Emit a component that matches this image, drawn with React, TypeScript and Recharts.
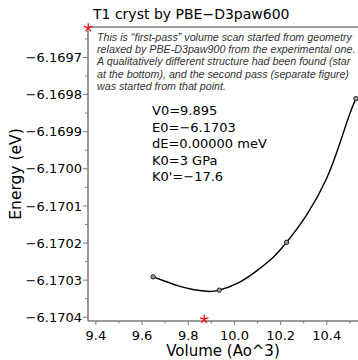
import { ScatterChart, Scatter, XAxis, YAxis, ReferenceLine } from "recharts";

// calculated points of the first-pass scan
const volumes = [9.648, 9.934, 10.226, 10.526];
const energies = [-6.170291, -6.170327, -6.170198, -6.169811];

// fitted equation-of-state curve
const fitVolumes = [9.648, 9.7, 9.76, 9.82, 9.879, 9.934, 10.023, 10.096, 10.168, 10.226, 10.312, 10.399, 10.456, 10.5, 10.526];
const fitEnergies = [
  -6.170291, -6.170303, -6.170316, -6.170325, -6.17033, -6.170327, -6.170305, -6.170275, -6.170238, -6.170198,
  -6.170125, -6.170026, -6.169932, -6.169851, -6.169811,
];

// red stars
const starVolumes = [9.367, 9.869];
const starEnergies = [-6.16962, -6.170405];

const xMajor = [9.4, 9.6, 9.8, 10.0, 10.2, 10.4];
const xMinor = [9.5, 9.7, 9.9, 10.1, 10.3, 10.5];
const yMajor = [-6.1704, -6.1703, -6.1702, -6.1701, -6.17, -6.1699, -6.1698, -6.1697];
const yMinor = [-6.17035, -6.17025, -6.17015, -6.17005, -6.16995, -6.16985, -6.16975, -6.16965];

const xDomain = [9.366, 10.535];
const yDomain = [-6.17041, -6.169618];

const title = "T1 cryst by PBE−D3paw600";
const note = [
  "This is “first-pass” volume scan started from geometry",
  "relaxed by PBE-D3paw900 from the experimental one.",
  "A qualitatively different structure had been found (star",
  "at the bottom), and the second pass (separate figure)",
  "was started from that point.",
];
const fitInfo = ["V0=9.895", "E0=−6.1703", "dE=0.00000 meV", "K0=3 GPa", "K0'=−17.6"];

const points = volumes.map((v, i) => ({ v, e: energies[i] }));
const fit = fitVolumes.map((v, i) => ({ v, e: fitEnergies[i] }));
const stars = starVolumes.map((v, i) => ({ v, e: starEnergies[i] }));

const axisColor = "#7a7a7a";
const font = "DejaVu Sans";

const isMajor = (list: number[], val: number) => list.some((t) => Math.abs(t - val) < 1e-7);

const XTick = (props: any) => {
  const { x, y, payload } = props;
  const major = isMajor(xMajor, payload.value);
  return (
    <g>
      <line x1={x} x2={x} y1={y} y2={y + (major ? 4 : 2.5)} stroke={axisColor} strokeWidth={1} />
      {major && (
        <text x={x} y={y + 19} textAnchor="middle" fontSize={13} fontFamily={font} fill="#000">
          {payload.value.toFixed(1)}
        </text>
      )}
    </g>
  );
};

const YTick = (props: any) => {
  const { x, y, payload } = props;
  const major = isMajor(yMajor, payload.value);
  return (
    <g>
      <line x1={x} x2={x - (major ? 5 : 3)} y1={y} y2={y} stroke={axisColor} strokeWidth={1} />
      {major && (
        <text x={x - 6} y={y} dy="0.36em" textAnchor="end" fontSize={13} fontFamily={font} fill="#000">
          {payload.value.toFixed(4).replace("-", "−")}
        </text>
      )}
    </g>
  );
};

const Circle = (props: any) => (
  <circle cx={props.cx} cy={props.cy} r={2.2} fill="#9a9a9a" stroke="#222" strokeWidth={1} />
);

const Star = (props: any) => {
  const { cx, cy } = props;
  const arms = [-90, -18, 54, 126, 198].map((a) => (a * Math.PI) / 180);
  return (
    <g>
      {arms.map((a, i) => (
        <line key={i} x1={cx} y1={cy} x2={cx + 4.5 * Math.cos(a)} y2={cy + 4.5 * Math.sin(a)} stroke="#ff0000" strokeWidth={1.2} />
      ))}
    </g>
  );
};

const Nothing = () => <g />;

export default function App() {
  return (
    <div style={{ position: "absolute", left: 0, top: 0, width: 358, height: 360, background: "#fff" }}>
      <ScatterChart width={358} height={360} margin={{ top: 27, right: 0, bottom: 0, left: 0 }}>
        <XAxis
          type="number"
          dataKey="v"
          domain={xDomain}
          ticks={[...xMajor, ...xMinor].sort((a, b) => a - b)}
          interval={0}
          height={39}
          tickSize={0}
          tickMargin={0}
          tickLine={false}
          tick={XTick}
          axisLine={{ stroke: axisColor, strokeWidth: 1.5 }}
          label={{ value: "Volume (Ao^3)", position: "insideBottom", offset: 4, fontSize: 15, fontFamily: font, fill: "#000" }}
        />
        <YAxis
          type="number"
          dataKey="e"
          domain={yDomain}
          ticks={[...yMajor, ...yMinor].sort((a, b) => a - b)}
          interval={0}
          width={88}
          tickSize={0}
          tickMargin={0}
          tickLine={false}
          tick={YTick}
          axisLine={{ stroke: axisColor, strokeWidth: 1.5 }}
          label={{
            value: "Energy (eV)",
            angle: -90,
            position: "insideLeft",
            offset: 15,
            fontSize: 15.5,
            fontFamily: font,
            fill: "#000",
            style: { textAnchor: "middle" },
          }}
        />
        <ReferenceLine y={yDomain[1]} stroke={axisColor} strokeWidth={1.5} />
        <Scatter
          data={fit}
          shape={Nothing}
          line={{ stroke: "#000", strokeWidth: 1.4 }}
          lineJointType="natural"
          isAnimationActive={false}
        />
        <Scatter data={points} shape={Circle} isAnimationActive={false} />
        <Scatter data={stars} shape={Star} isAnimationActive={false} />
      </ScatterChart>
      <svg width={358} height={360} style={{ position: "absolute", left: 0, top: 0, pointerEvents: "none" }}>
        <text x={93} y={18.5} fontSize={14} fontFamily={font} fill="#000">
          {title}
        </text>
        {note.map((line, i) => (
          <text key={i} x={97} y={41 + i * 12.2} fontSize={10.7} fontStyle="italic" fontFamily="Liberation Sans" fill="#333">
            {line}
          </text>
        ))}
        {fitInfo.map((line, i) => (
          <text key={i} x={152} y={115 + i * 16.6} fontSize={13} fontFamily={font} fill="#000">
            {line}
          </text>
        ))}
      </svg>
    </div>
  );
}
